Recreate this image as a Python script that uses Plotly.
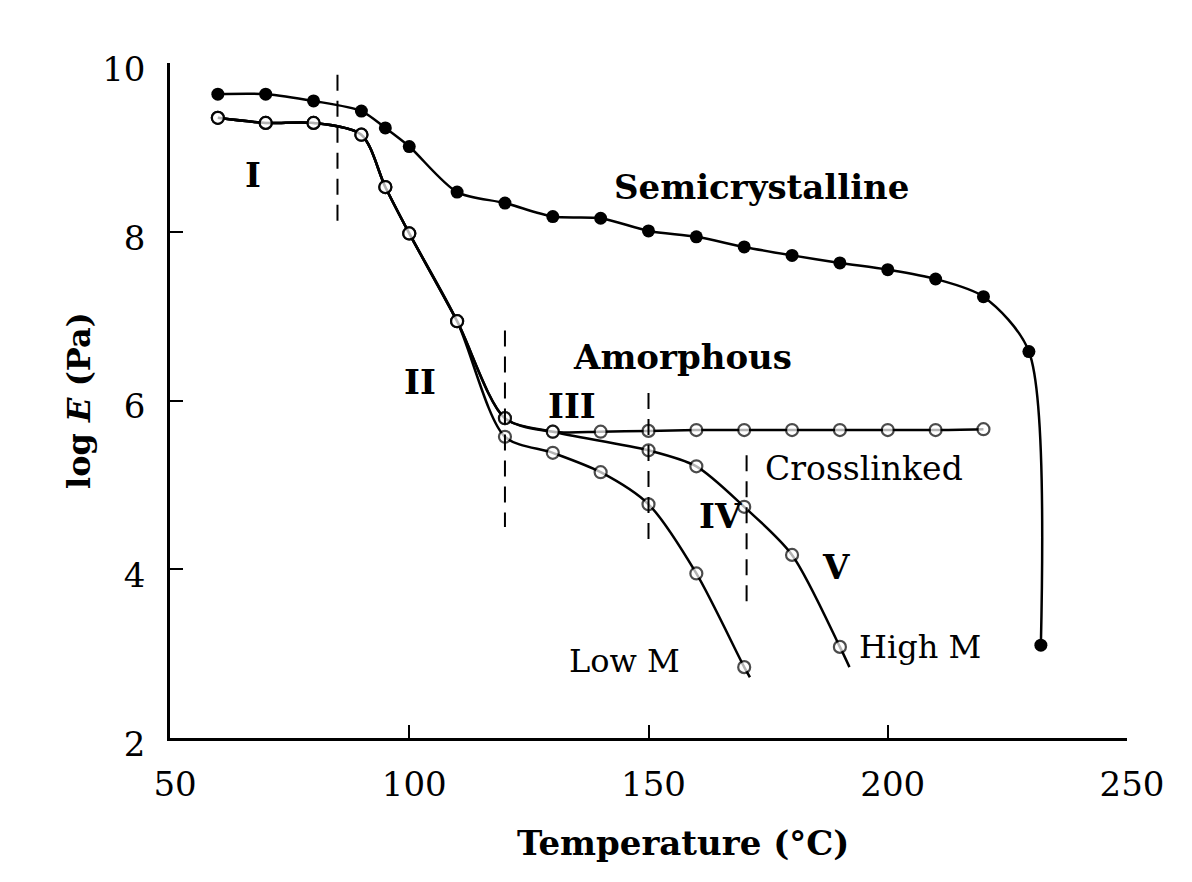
import plotly.graph_objects as go

# ---------------- data ----------------
# Semicrystalline (filled circles)
semi_T = [60, 70, 80, 90, 95, 100, 110, 120, 130, 140, 150, 160, 170, 180, 190, 200, 210, 220, 229.5, 232]
semi_logE = [9.63, 9.63, 9.55, 9.43, 9.23, 9.01, 8.47, 8.34, 8.18, 8.16, 8.01, 7.94, 7.82, 7.72, 7.63, 7.55, 7.44, 7.23, 6.58, 3.10]

# Amorphous, common part (open circles)
amor_T = [60, 70, 80, 90, 95, 100, 110]
amor_logE = [9.35, 9.29, 9.29, 9.15, 8.53, 7.98, 6.94]

# Crosslinked branch
cross_T = [120, 130, 140, 150, 160, 170, 180, 190, 200, 210, 220]
cross_logE = [5.79, 5.63, 5.63, 5.64, 5.65, 5.65, 5.65, 5.65, 5.65, 5.65, 5.66]

# High M branch (last value is line tail without marker)
highM_T = [120, 130, 150, 160, 170, 180, 190, 192]
highM_logE = [5.79, 5.63, 5.41, 5.22, 4.74, 4.17, 3.08, 2.84]

# Low M branch (last value is line tail without marker)
lowM_T = [120, 130, 140, 150, 160, 170, 171.2]
lowM_logE = [5.57, 5.38, 5.15, 4.77, 3.95, 2.84, 2.72]

# Region boundaries (dashed lines)
bound_T = [85, 120, 150, 170.5]
bound_top = [9.86, 6.83, 6.09, 5.35]
bound_bottom = [8.02, 4.50, 4.31, 3.55]

x_ticks = [50, 100, 150, 200, 250]
y_ticks = [2, 4, 6, 8, 10]

# ---------------- styling ----------------
SERIF = "DejaVu Serif"
BLACK = "black"
LW = 2.5

fig = go.Figure()

def open_branch(T, E, tail=False, name=""):
    TT = amor_T + T
    EE = amor_logE + E
    sizes = [12] * len(TT)
    if tail:
        sizes[-1] = 0
    fig.add_trace(go.Scatter(
        x=TT, y=EE, mode="lines+markers", name=name,
        line=dict(color=BLACK, width=LW, shape="spline", smoothing=0.8),
        marker=dict(symbol="circle", size=sizes, color="white",
                    line=dict(color=BLACK, width=2.2)),
        showlegend=False, hoverinfo="skip"))

open_branch(lowM_T, lowM_logE, tail=True, name="Low M")
open_branch(highM_T, highM_logE, tail=True, name="High M")
open_branch(cross_T, cross_logE, name="Crosslinked")

fig.add_trace(go.Scatter(
    x=semi_T, y=semi_logE, mode="lines+markers", name="Semicrystalline",
    line=dict(color=BLACK, width=LW, shape="spline", smoothing=0.8),
    marker=dict(symbol="circle", size=13, color=BLACK),
    showlegend=False, hoverinfo="skip"))

for t, top, bot in zip(bound_T, bound_top, bound_bottom):
    fig.add_trace(go.Scatter(
        x=[t, t], y=[top, bot], mode="lines",
        line=dict(color=BLACK, width=2, dash="16px,10px"),
        showlegend=False, hoverinfo="skip"))

# text labels: (text, T, logE, size, bold)
labels = [
    ("I", 67.3, 8.67, 34, True),
    ("II", 102.2, 6.22, 34, True),
    ("III", 134.0, 5.93, 34, True),
    ("IV", 165.0, 4.63, 34, True),
    ("V", 189.2, 4.03, 34, True),
    ("Semicrystalline", 173.7, 8.53, 34, True),
    ("Amorphous", 157.2, 6.51, 34, True),
    ("Crosslinked", 195.0, 5.20, 33, False),
    ("Low M", 144.9, 2.91, 32, False),
    ("High M", 206.7, 3.08, 32, False),
]
for text, t, e, size, bold in labels:
    fig.add_annotation(
        x=t, y=e, xref="x", yref="y", text=f"<b>{text}</b>" if bold else text,
        showarrow=False, xanchor="center", yanchor="middle",
        font=dict(family=SERIF, size=size, color=BLACK))

# x-axis title placed as annotation (centre offset to the right as in reference)
plot_w = 1192 - 170 - 65
plot_h = 882 - 63 - 144
fig.add_annotation(
    x=(683 - 170) / plot_w, y=(882 - 144 - 843) / plot_h,
    xref="paper", yref="paper", text="<b>Temperature (°C)</b>",
    showarrow=False, xanchor="center", yanchor="middle",
    font=dict(family=SERIF, size=34, color=BLACK))

fig.update_layout(
    width=1192, height=882,
    margin=dict(l=170, r=65, t=63, b=144),
    paper_bgcolor="white", plot_bgcolor="white",
    xaxis=dict(range=[50, 250], tickvals=x_ticks, ticks="inside", ticklen=13,
               tickwidth=2, tickcolor=BLACK, showline=True, linewidth=LW,
               linecolor=BLACK, showgrid=False, zeroline=False,
               tickfont=dict(family=SERIF, size=34, color=BLACK),
               ticklabelstandoff=14, ticklabelshift=5),
    yaxis=dict(range=[2, 10], tickvals=y_ticks, ticks="inside", ticklen=13,
               tickwidth=2, tickcolor=BLACK, showline=True, linewidth=LW,
               linecolor=BLACK, showgrid=False, zeroline=False,
               tickfont=dict(family=SERIF, size=34, color=BLACK),
               ticklabelstandoff=15, ticklabelshift=6,
               title=dict(text="<b>log <i>E</i> (Pa)</b>",
                          font=dict(family=SERIF, size=32, color=BLACK),
                          standoff=2)),
)

fig.write_html("out.html", post_script="document.body.style.margin='0';",
               config={"displayModeBar": False})
